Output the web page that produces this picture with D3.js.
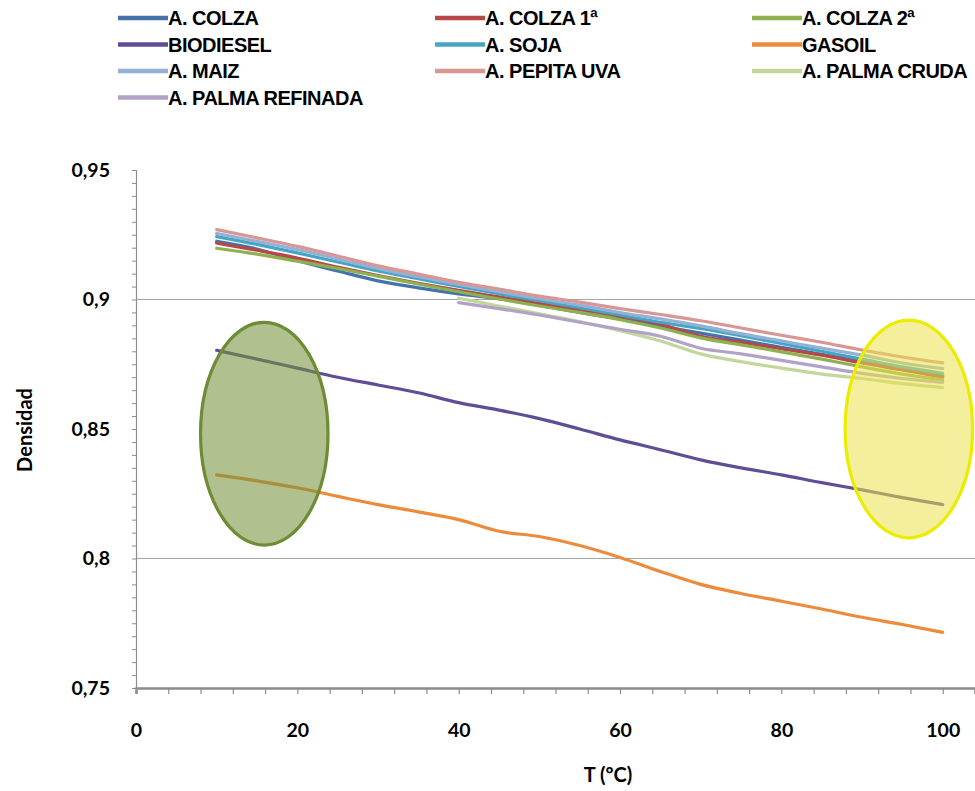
<!DOCTYPE html>
<html>
<head>
<meta charset="utf-8">
<script src="https://cdn.jsdelivr.net/npm/d3@7"></script>
<style>
  html, body { margin: 0; padding: 0; background: #fff; }
  svg { display: block; }
  .legend text { font-family: "Liberation Sans", Arial, sans-serif; font-weight: bold; font-size: 20px; letter-spacing: -0.5px; fill: #000; }
  .tick text, .axis-title { font-family: Lato, "Open Sans", sans-serif; font-weight: bold; fill: #000; }
</style>
</head>
<body>
<div id="chart"></div>
<script>
// ---------- DATA ----------
const temps = [10, 15, 20, 25, 30, 35, 40, 45, 50, 55, 60, 65, 70, 75, 80, 85, 90, 95, 100];
const tempsPalma = [40, 45, 50, 55, 60, 65, 70, 75, 80, 85, 90, 95, 100];

const aColza      = [0.9225, 0.9195, 0.9150, 0.9110, 0.9072, 0.9045, 0.9022, 0.9003, 0.8978, 0.8950, 0.8925, 0.8898, 0.8870, 0.8843, 0.8815, 0.8788, 0.8760, 0.8730, 0.8705];
const aColza1     = [0.9218, 0.9190, 0.9160, 0.9125, 0.9092, 0.9062, 0.9035, 0.9010, 0.8985, 0.8960, 0.8935, 0.8905, 0.8858, 0.8835, 0.8810, 0.8785, 0.8755, 0.8728, 0.8700];
const aColza2     = [0.9198, 0.9175, 0.9148, 0.9120, 0.9090, 0.9060, 0.9030, 0.9002, 0.8975, 0.8950, 0.8922, 0.8890, 0.8852, 0.8825, 0.8798, 0.8770, 0.8740, 0.8712, 0.8690];
const biodiesel   = [0.8804, 0.8770, 0.8735, 0.8700, 0.8670, 0.8640, 0.8602, 0.8573, 0.8540, 0.8500, 0.8458, 0.8420, 0.8381, 0.8350, 0.8323, 0.8293, 0.8265, 0.8235, 0.8208];
const aSoja       = [0.9243, 0.9213, 0.9180, 0.9145, 0.9110, 0.9080, 0.9050, 0.9022, 0.8995, 0.8968, 0.8940, 0.8912, 0.8888, 0.8860, 0.8830, 0.8800, 0.8770, 0.8740, 0.8715];
const gasoil      = [0.8323, 0.8300, 0.8273, 0.8240, 0.8208, 0.8180, 0.8150, 0.8105, 0.8085, 0.8050, 0.8004, 0.7950, 0.7900, 0.7865, 0.7835, 0.7805, 0.7773, 0.7745, 0.7715];
const aMaiz       = [0.9255, 0.9225, 0.9193, 0.9157, 0.9120, 0.9088, 0.9058, 0.9030, 0.9003, 0.8978, 0.8950, 0.8925, 0.8898, 0.8868, 0.8840, 0.8812, 0.8785, 0.8755, 0.8733];
const aPepitaUva  = [0.9270, 0.9238, 0.9205, 0.9168, 0.9130, 0.9098, 0.9066, 0.9040, 0.9013, 0.8990, 0.8965, 0.8942, 0.8918, 0.8890, 0.8862, 0.8835, 0.8805, 0.8778, 0.8755];
const aPalmaCruda = [0.9005, 0.8975, 0.8945, 0.8915, 0.8880, 0.8840, 0.8790, 0.8760, 0.8735, 0.8712, 0.8695, 0.8675, 0.8660];
const aPalmaRef   = [0.8988, 0.8965, 0.8940, 0.8912, 0.8885, 0.8858, 0.8812, 0.8790, 0.8765, 0.8740, 0.8715, 0.8695, 0.8680];

const seriesNames  = ["A. COLZA", "A. COLZA 1ª", "A. COLZA 2ª", "BIODIESEL", "A. SOJA", "GASOIL", "A. MAIZ", "A. PEPITA UVA", "A. PALMA CRUDA", "A. PALMA REFINADA"];
const seriesColors = ["#4472ad", "#b8474a", "#8fb04f", "#5f4d96", "#44a6c2", "#ec8b3c", "#93b1d6", "#d99694", "#c3d69b", "#b2a2c7"];

const xTickLabels = ["0", "20", "40", "60", "80", "100"];
const yTickLabels = ["0,75", "0,8", "0,85", "0,9", "0,95"];

// annotation ellipses: [centre T, centre density, half-width in T, half-height in density]
const greenEllipse  = [15.9, 0.8482, 7.9, 0.0430];
const yellowEllipse = [95.8, 0.8500, 7.9, 0.0420];

// ---------- LAYOUT ----------
const W = 975, H = 791;
const svg = d3.select("#chart").append("svg").attr("width", W).attr("height", H);

const x = d3.scaleLinear().domain([0, 104]).range([136, 975]);
const y = d3.scaleLinear().domain([0.75, 0.95]).range([688, 170]);

// gridlines
svg.append("g").selectAll("line").data([0.8, 0.9]).join("line")
  .attr("x1", x(0)).attr("x2", x(104))
  .attr("y1", d => y(d)).attr("y2", d => y(d))
  .attr("stroke", "#a6a6a6").attr("stroke-width", 1.2);

// y axis minor ticks
const yMinor = d3.range(0, 41).map(i => +(0.75 + i * 0.005).toFixed(3));
const yAxisG = svg.append("g").attr("transform", `translate(${x(0)},0)`)
  .call(d3.axisLeft(y).tickValues(yMinor).tickSize(4).tickFormat(""));
yAxisG.select(".domain").attr("stroke", "#8c8c8c").attr("stroke-width", 1.2);
yAxisG.selectAll(".tick line").attr("stroke", "#8c8c8c");

// y labels
const yLabelAxis = svg.append("g").attr("transform", `translate(${x(0)},0)`)
  .call(d3.axisLeft(y).tickValues([0.75, 0.8, 0.85, 0.9, 0.95]).tickSize(0).tickPadding(26)
    .tickFormat((d, i) => yTickLabels[i]));
yLabelAxis.select(".domain").remove();
yLabelAxis.selectAll(".tick text").attr("font-size", 19.5);

// x axis
const xMinor = d3.range(0, 27).map(i => i * 4);
const xAxisG = svg.append("g").attr("transform", `translate(0,${y(0.75)})`)
  .call(d3.axisBottom(x).tickValues(xMinor).tickSize(6).tickFormat(""));
xAxisG.select(".domain").attr("stroke", "#8c8c8c").attr("stroke-width", 2.5);
xAxisG.selectAll(".tick line").attr("stroke", "#8c8c8c").attr("stroke-width", 1.2);

const xLabelAxis = svg.append("g").attr("transform", `translate(0,${y(0.75)})`)
  .call(d3.axisBottom(x).tickValues([0, 20, 40, 60, 80, 100]).tickSize(0).tickPadding(35)
    .tickFormat((d, i) => xTickLabels[i]));
xLabelAxis.select(".domain").remove();
xLabelAxis.selectAll(".tick text").attr("font-size", 19.5);

// axis titles
svg.append("text").attr("class", "axis-title")
  .attr("x", 608).attr("y", 782).attr("text-anchor", "middle").attr("font-size", 20)
  .text("T (ºC)");
svg.append("text").attr("class", "axis-title")
  .attr("transform", "translate(32,430) rotate(-90)").attr("text-anchor", "middle").attr("font-size", 20)
  .text("Densidad");

// ---------- LINES ----------
const seriesValues = [aColza, aColza1, aColza2, biodiesel, aSoja, gasoil, aMaiz, aPepitaUva, aPalmaCruda, aPalmaRef];
const seriesTemps  = [temps, temps, temps, temps, temps, temps, temps, temps, tempsPalma, tempsPalma];

const line = d3.line().x(d => x(d[0])).y(d => y(d[1])).curve(d3.curveMonotoneX);

svg.append("g").selectAll("path")
  .data(seriesValues.map((vals, i) => ({ color: seriesColors[i], pts: vals.map((v, j) => [seriesTemps[i][j], v]) })))
  .join("path")
  .attr("d", d => line(d.pts))
  .attr("fill", "none")
  .attr("stroke", d => d.color)
  .attr("stroke-width", 3.2)
  .attr("stroke-linejoin", "round")
  .attr("stroke-linecap", "round");

// ---------- ANNOTATION ELLIPSES ----------
function drawEllipse(e, fill, fillOpacity, stroke) {
  svg.append("ellipse")
    .attr("cx", x(e[0])).attr("cy", y(e[1]))
    .attr("rx", x(e[0] + e[2]) - x(e[0]))
    .attr("ry", y(e[1]) - y(e[1] + e[3]))
    .attr("fill", fill).attr("fill-opacity", fillOpacity)
    .attr("stroke", stroke).attr("stroke-width", 3.2);
}
drawEllipse(greenEllipse, "#77933c", 0.58, "#6e8c35");
drawEllipse(yellowEllipse, "#eae24a", 0.55, "#ecec00");

// ---------- LEGEND ----------
const legendCols = [118, 435, 752];
const legendRows = [18, 44.5, 71, 97.5];
const legend = svg.append("g").attr("class", "legend");
seriesNames.forEach((name, k) => {
  const lx = legendCols[k % 3], ly = legendRows[Math.floor(k / 3)];
  legend.append("line")
    .attr("x1", lx).attr("x2", lx + 50).attr("y1", ly).attr("y2", ly)
    .attr("stroke", seriesColors[k]).attr("stroke-width", 4.5);
  legend.append("text").attr("x", lx + 50).attr("y", ly).attr("dy", "0.36em").text(name);
});
</script>
</body>
</html>
